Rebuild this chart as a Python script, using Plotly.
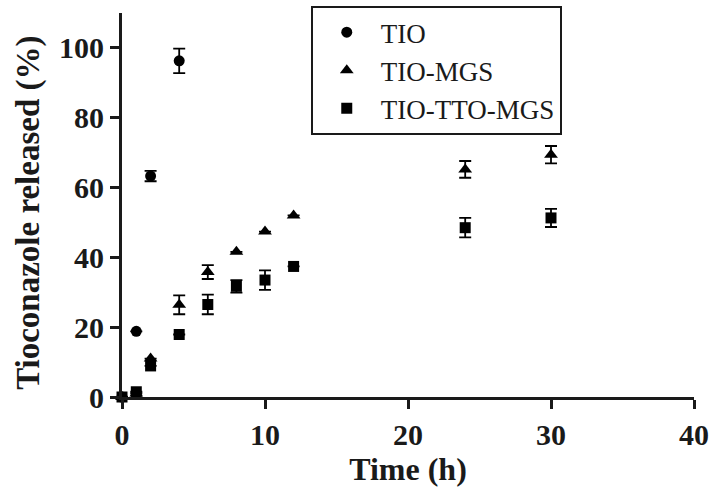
import plotly.graph_objects as go

# Data
t_tio = [0, 1, 2, 4]
y_tio = [0, 18.8, 63.3, 96.3]
e_tio = [0, 0, 1.5, 3.5]

t_mgs = [0, 1, 2, 4, 6, 8, 10, 12, 24, 30]
y_mgs = [0, 1.0, 11.0, 26.4, 35.8, 41.6, 47.4, 52.0, 65.2, 69.4]
e_mgs = [0, 0, 0, 2.7, 2.0, 0, 0, 0, 2.4, 2.5]

t_tto = [0, 1, 2, 4, 6, 8, 10, 12, 24, 30]
y_tto = [0, 1.5, 8.9, 17.9, 26.5, 31.7, 33.5, 37.4, 48.5, 51.3]
e_tto = [0, 0, 0, 0, 2.8, 1.8, 2.8, 0, 2.8, 2.6]

x_ticks = [0, 10, 20, 30, 40]
y_ticks = [0, 20, 40, 60, 80, 100]

series = [
    ("TIO", t_tio, y_tio, e_tio, "circle", 11),
    ("TIO-MGS", t_mgs, y_mgs, e_mgs, "triangle-up", 12),
    ("TIO-TTO-MGS", t_tto, y_tto, e_tto, "square", 11),
]

fig = go.Figure()
for name, t, y, e, sym, sz in series:
    fig.add_trace(go.Scatter(
        x=t, y=y, mode="markers", name=name,
        marker=dict(symbol=sym, size=sz, color="black"),
        error_y=dict(type="data", array=e, visible=True, color="black",
                     thickness=1.8, width=6),
        cliponaxis=False,
    ))

ink = "#1a1a1a"
tick_font = dict(family="Liberation Serif", size=30, color=ink)
fig.update_layout(
    width=713, height=495,
    margin=dict(l=122, r=19, t=13, b=98, autoexpand=False),
    paper_bgcolor="white", plot_bgcolor="white",
    font=dict(family="Liberation Serif", color=ink),
    showlegend=True,
    legend=dict(
        x=0.330, y=1.018, xanchor="left", yanchor="top",
        bordercolor=ink, borderwidth=2, bgcolor="white",
        font=dict(family="Liberation Serif", size=27, color=ink),
        itemwidth=58, tracegroupgap=0,
    ),
    xaxis=dict(
        range=[0, 40], tickvals=x_ticks, ticktext=["<b>%d</b>" % v for v in x_ticks],
        automargin=False,
        showgrid=False, zeroline=False, showline=True, linewidth=3, linecolor=ink,
        ticks="outside", ticklen=9, tickwidth=3, tickcolor=ink,
        tickfont=tick_font,
        title=dict(text="<b>Time (h)</b>", font=dict(family="Liberation Serif", size=32, color=ink), standoff=8),
    ),
    yaxis=dict(
        range=[0, 110], tickvals=y_ticks, ticktext=["<b>%d</b>" % v for v in y_ticks],
        automargin=False,
        showgrid=False, zeroline=False, showline=True, linewidth=3, linecolor=ink,
        ticks="outside", ticklen=9, tickwidth=3, tickcolor=ink,
        tickfont=tick_font,
    ),
    annotations=[dict(
        text="<b>Tioconazole released (%)</b>", textangle=-90,
        xref="paper", yref="paper", x=-0.164, y=0.48,
        xanchor="center", yanchor="middle", showarrow=False,
        font=dict(family="Liberation Serif", size=33, color=ink),
    )],
)

fig.write_html(
    "out.html",
    config={"displayModeBar": False},
    post_script="document.body.style.margin='0';document.body.style.overflow='hidden';",
)
